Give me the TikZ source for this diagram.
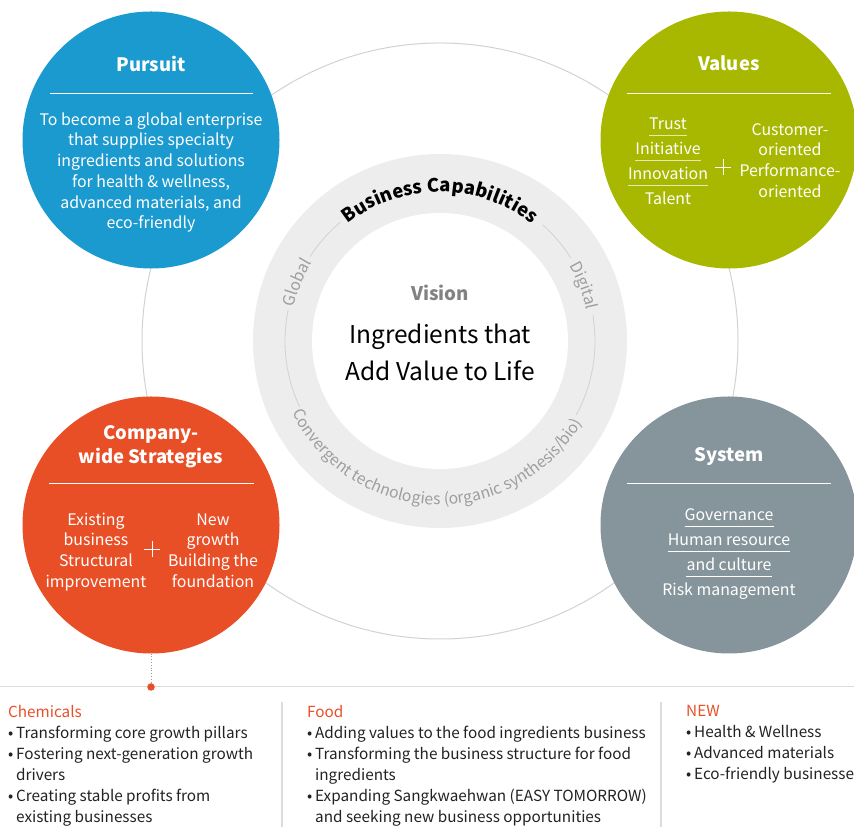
\documentclass[tikz,border=0pt]{standalone}
\usepackage{fontspec}
\setmainfont{Noto Sans CJK KR}
\usetikzlibrary{positioning,decorations.text}

\definecolor{pursuitblue}{HTML}{1B9AD0}
\definecolor{valuesgreen}{HTML}{A8B800}
\definecolor{strategyorange}{HTML}{E94F26}
\definecolor{systemgray}{HTML}{86959B}
\definecolor{ringgray}{HTML}{EDEDED}
\definecolor{ringline}{HTML}{D2D2D2}
\definecolor{ringtext}{HTML}{9E9E9E}
\definecolor{visiongray}{HTML}{828282}
\definecolor{rulegray}{HTML}{DCDCDC}
\definecolor{listblack}{HTML}{222222}

\newcommand{\listdot}{\makebox[8pt][l]{\textbullet}}
\newcommand{\listgap}{\hspace*{8pt}}

\tikzset{
	bigcircle/.style={circle, minimum size=257pt, inner sep=0pt},
	circtitle/.style={text=white, font=\fontsize{18.5}{24}\selectfont\bfseries, align=center, inner sep=0pt},
	circbody/.style={text=white, font=\fontsize{15.9}{20.7}\selectfont, align=center, inner sep=0pt},
	circword/.style={text=white, font=\fontsize{15.9}{20.7}\selectfont, anchor=base, inner sep=0pt},
	titlerule/.style={white, line width=0.8pt},
	wordrule/.style={white, line width=0.8pt},
	plusmark/.style={white, line width=0.9pt},
	listtext/.style={text=listblack, font=\fontsize{15.3}{21}\selectfont, align=left, anchor=north west, inner sep=0pt},
	ringlabel/.style={decorate, decoration={text along path, text align=center, text color=#1}},
}

\begin{document}
\begin{tikzpicture}[x=1pt, y=1pt]
	\useasboundingbox (0,0) rectangle (854,832);
	\clip (0,0) rectangle (854,832);
	% Umlaufbahn
	\draw[ringline, line width=1pt] (440,491) circle[radius=298];
	% Ring in der Mitte
	\node[circle, fill=ringgray, minimum size=374pt, inner sep=0pt] (ring) at (440,491) {};
	\node[circle, fill=white, minimum size=256pt, inner sep=0pt] (vision) at (ring) {};
	\draw[ringline, line width=0.8pt]
		(ring) ++(48.5:155) arc[start angle=48.5, end angle=32.5, radius=155]
		(ring) ++(9.5:155) arc[start angle=9.5, end angle=-28.5, radius=155]
		(ring) ++(205:155) arc[start angle=205, end angle=168.5, radius=155]
		(ring) ++(147:155) arc[start angle=147, end angle=130, radius=155];
	\path[ringlabel=black, decoration={text={|\fontsize{18.5}{19}\selectfont\bfseries|Business Capabilities}}]
		(ring) ++(135:149) arc[start angle=135, end angle=45, radius=149];
	\path[ringlabel=ringtext, decoration={text={|\fontsize{16}{16}\selectfont|Global}}]
		(ring) ++(180:150) arc[start angle=180, end angle=135.5, radius=150];
	\path[ringlabel=ringtext, decoration={text={|\fontsize{16}{16}\selectfont|Digital}}]
		(ring) ++(45:150) arc[start angle=45, end angle=-3, radius=150];
	\path[ringlabel=ringtext, decoration={text={|\fontsize{15.8}{16}\selectfont|Convergent technologies (organic synthesis/bio)}}]
		(ring) ++(190:164) arc[start angle=190, end angle=346, radius=164];
	\node[font=\fontsize{18.7}{24}\selectfont\bfseries, text=visiongray, inner sep=0pt] (visionlabel) at (440,539.5) {Vision};
	\node[font=\fontsize{24.5}{37}\selectfont, align=center, inner sep=0pt] (visiontext) at (440,479.5) {Ingredients that\\Add Value to Life};
	% Pursuit
	\node[bigcircle, fill=pursuitblue] (pursuit) at (151,692) {};
	\node[circtitle] (pursuittitle) at (151,768.5) {Pursuit};
	\draw[titlerule] (50,739) -- +(203,0);
	\node[circbody] (pursuittext) at (151,659.5) {To become a global enterprise\\that supplies specialty\\ingredients and solutions\\for health \& wellness,\\advanced materials, and\\eco-friendly};
	% Values
	\node[bigcircle, fill=valuesgreen] (values) at (729,692) {};
	\node[circtitle] (valuestitle) at (729,768.5) {Values};
	\draw[titlerule] (627,739) -- +(204,0);
	\node[circword] (trust) at (668,702) {Trust};
	\node[circword] (initiative) at (668,677) {Initiative};
	\node[circword] (innovation) at (668,652) {Innovation};
	\node[circword] (talent) at (668,627) {Talent};
	\foreach \w in {trust,initiative,innovation}
		\draw[wordrule, white!70!valuesgreen] ([yshift=-5.5pt]\w.base west) -- ([yshift=-5.5pt]\w.base east);
	\coordinate (valuesplus) at (723,665);
	\draw[plusmark] (valuesplus) +(-8,0) -- +(8,0) +(0,-8) -- +(0,8);
	\node[circbody] (orientation) at (790,671.5) {Customer-\\oriented\\Performance-\\oriented};
	% Company-wide Strategies
	\node[bigcircle, fill=strategyorange] (strategies) at (151,307) {};
	\node[circtitle] (strategiestitle) at (151,385.5) {Company-\\wide Strategies};
	\draw[titlerule] (49,349) -- +(205,0);
	\node[circbody] (existing) at (96,280) {Existing\\business\\Structural\\improvement};
	\node[circbody] (newgrowth) at (213,281.5) {New\\growth\\Building the\\foundation};
	\coordinate (strategiesplus) at (152,283);
	\draw[plusmark] (strategiesplus) +(-8,0) -- +(8,0) +(0,-8) -- +(0,8);
	% System
	\node[bigcircle, fill=systemgray] (system) at (729,307) {};
	\node[circtitle] (systemtitle) at (729,375) {System};
	\draw[titlerule] (627,349) -- +(204,0);
	\node[circword] (governance) at (729,311) {Governance};
	\node[circword] (humanres) at (729,286) {Human resource};
	\node[circword] (culture) at (729,261) {and culture};
	\node[circword] (risk) at (729,236) {Risk management};
	\foreach \w in {governance,humanres,culture}
		\draw[wordrule] ([yshift=-5.5pt]\w.base west) -- ([yshift=-5.5pt]\w.base east);
	% Geschaeftsbereiche
	\draw[rulegray, line width=1pt] (0,145) -- (854,145);
	\node[circle, fill=strategyorange, minimum size=7.5pt, inner sep=0pt] (linkdot) at (151,145) {};
	\draw[dotted, gray!80, line width=0.8pt] (strategies) -- (linkdot);
	\draw[rulegray, line width=1.5pt] (282,130) -- +(0,-125)
		(661,130) -- +(0,-125);
	\node[listtext] (chemicals) at (8,126.5) {\textcolor{strategyorange}{Chemicals}\\
		\listdot Transforming core growth pillars\\
		\listdot Fostering next-generation growth\\
		\listgap drivers\\
		\listdot Creating stable profits from\\
		\listgap existing businesses};
	\node[listtext] (food) at (307,126.5) {\textcolor{strategyorange}{Food}\\
		\listdot Adding values to the food ingredients business\\
		\listdot Transforming the business structure for food\\
		\listgap ingredients\\
		\listdot Expanding Sangkwaehwan (EASY TOMORROW)\\
		\listgap and seeking new business opportunities};
	\node[listtext] (newbiz) at (686,126.5) {\textcolor{strategyorange}{NEW}\\
		\listdot Health \& Wellness\\
		\listdot Advanced materials\\
		\listdot Eco-friendly businesses};
\end{tikzpicture}
\end{document}
